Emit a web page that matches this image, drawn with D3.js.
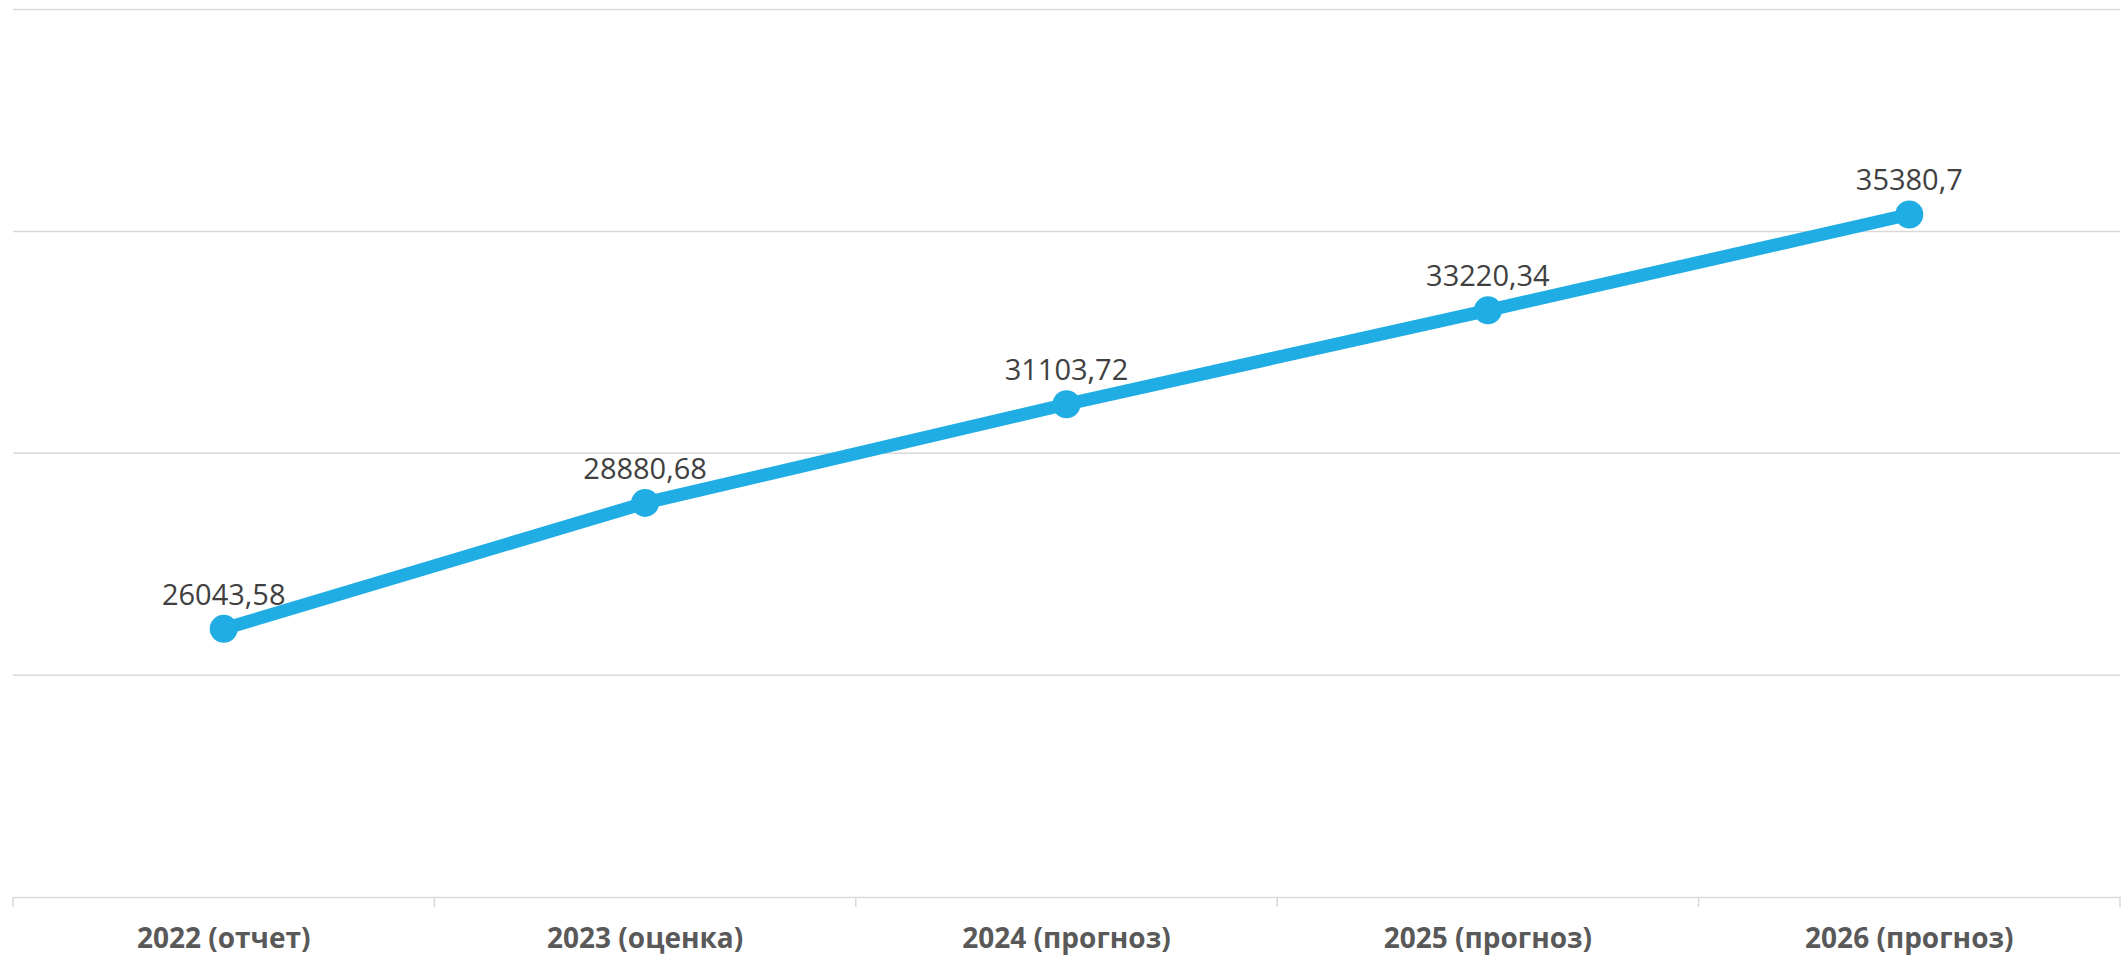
<!DOCTYPE html>
<html>
<head>
<meta charset="utf-8">
<script src="https://cdn.jsdelivr.net/npm/d3@7"></script>
<style>
    html, body { margin: 0; padding: 0; background: #ffffff; }
    svg { display: block; }
</style>
</head>
<body>
<svg id="chart"></svg>
<script>
'use strict';

const categories = ['2022 (отчет)', '2023 (оценка)', '2024 (прогноз)', '2025 (прогноз)', '2026 (прогноз)'];
const values = [26043.58, 28880.68, 31103.72, 33220.34, 35380.7];
const valueLabels = ['26043,58', '28880,68', '31103,72', '33220,34', '35380,7'];
const gridValues = [20000, 25000, 30000, 35000, 40000];

const width = 2128;
const height = 960;
const margin = { top: 9.5, right: 8, bottom: 63, left: 13 };

const svg = d3.select('#chart')
    .attr('width', width)
    .attr('height', height)
    .attr('viewBox', [0, 0, width, height]);

const x = d3.scaleBand()
    .domain(categories)
    .range([margin.left, width - margin.right]);

const y = d3.scaleLinear()
    .domain([20000, 40000])
    .range([height - margin.bottom, margin.top]);

// horizontal gridlines
svg.append('g')
    .selectAll('line')
    .data(gridValues.slice(1))
    .join('line')
        .attr('x1', margin.left)
        .attr('x2', width - margin.right)
        .attr('y1', d => y(d))
        .attr('y2', d => y(d))
        .attr('stroke', '#d9d9d9')
        .attr('stroke-width', 1.5);

// x axis
const xAxis = svg.append('g')
    .attr('transform', `translate(0, ${y(20000)})`)
    .call(d3.axisBottom(x).tickSize(0).tickPadding(31));

xAxis.select('.domain')
    .attr('stroke', '#d9d9d9')
    .attr('stroke-width', 1.5);

xAxis.selectAll('text')
    .attr('font-family', '"Open Sans", sans-serif')
    .attr('font-size', 28)
    .attr('font-weight', 'bold')
    .attr('fill', '#595959');

// band boundary ticks
const bounds = categories.map(c => x(c)).concat([x(categories[categories.length - 1]) + x.bandwidth()]);
xAxis.append('g')
    .selectAll('line')
    .data(bounds)
    .join('line')
        .attr('x1', d => d)
        .attr('x2', d => d)
        .attr('y1', 0)
        .attr('y2', 10)
        .attr('stroke', '#d9d9d9')
        .attr('stroke-width', 1.5);

const cx = (d, i) => x(categories[i]) + x.bandwidth() / 2;

// line
const line = d3.line()
    .x((d, i) => cx(d, i))
    .y(d => y(d));

svg.append('path')
    .datum(values)
    .attr('fill', 'none')
    .attr('stroke', '#1fade4')
    .attr('stroke-width', 13)
    .attr('stroke-linejoin', 'round')
    .attr('d', line);

// markers
svg.append('g')
    .selectAll('circle')
    .data(values)
    .join('circle')
        .attr('cx', cx)
        .attr('cy', d => y(d))
        .attr('r', 14)
        .attr('fill', '#1fade4');

// data labels
svg.append('g')
    .selectAll('text')
    .data(values)
    .join('text')
        .attr('x', cx)
        .attr('y', d => y(d) - 24)
        .attr('text-anchor', 'middle')
        .attr('font-family', '"Open Sans", sans-serif')
        .attr('font-size', 29)
        .attr('fill', '#404040')
        .text((d, i) => valueLabels[i]);
</script>
</body>
</html>
